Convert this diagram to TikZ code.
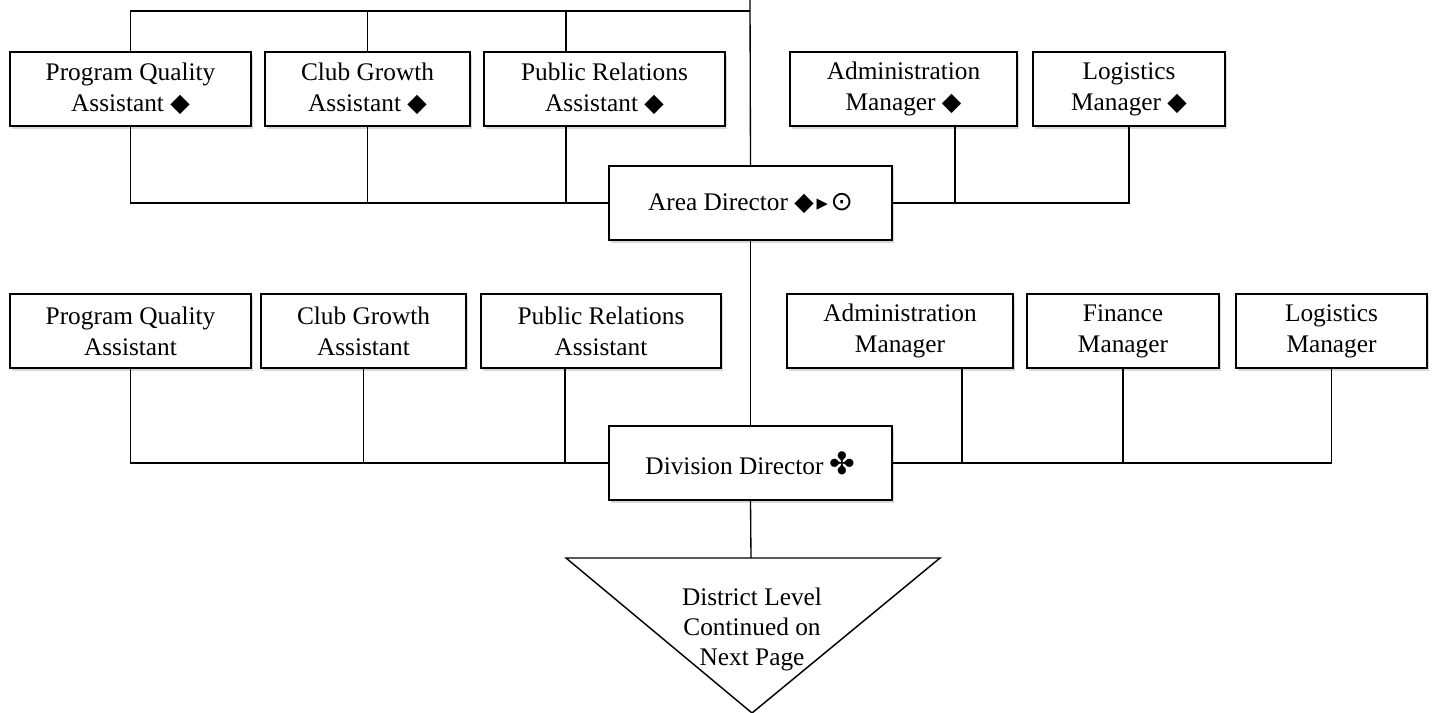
\documentclass[tikz,border=0pt]{standalone}
\usepackage{fontspec}
\setmainfont{Liberation Serif}
\newfontfamily\symfont{DejaVu Sans}
\usetikzlibrary{shadows}

\tikzset{every picture/.style={line width=0.75pt}}
\tikzset{
  orgbox/.style={draw, line width=1.1pt, fill=white, align=center, inner sep=0pt,
    minimum height=55.5pt, font=\fontsize{19}{23.25}\selectfont,
    drop shadow={shadow xshift=1.2pt, shadow yshift=-2.2pt, opacity=0.3}},
  link/.style={line width=1pt},
}
\newcommand{\dmd}{{\symfont\fontsize{19}{19}\selectfont ◆}}
\newcommand{\ptr}{{\symfont\fontsize{17}{17}\selectfont ▸}}
\newcommand{\cdt}{{\symfont\fontsize{20}{20}\selectfont ⊙}}
\newcommand{\clb}{{\symfont\fontsize{23}{23}\selectfont ✤}}

\begin{document}
\begin{tikzpicture}[x=0.75pt,y=0.75pt,yscale=-1,xscale=1]
\useasboundingbox (0,0) rectangle (1432,713);

% Top row
\node [orgbox, minimum width=180.75pt] (pqa) at (130.5,89) {Program Quality\\Assistant \dmd};
\node [orgbox, minimum width=153.75pt] (cga) at (367.5,89) {Club Growth\\Assistant \dmd};
\node [orgbox, minimum width=180.75pt] (pra) at (604.5,89) {Public Relations\\Assistant \dmd};
\node [orgbox, minimum width=170.25pt] (adm) at (903.5,89) {Administration\\Manager \dmd};
\node [orgbox, minimum width=144pt] (lgm) at (1129,89) {Logistics\\Manager \dmd};
% Area level
\node [orgbox, minimum width=212.25pt] (area) at (750.5,203) {Area Director \dmd\kern2pt\ptr\kern2pt\cdt};

% Second row
\node [orgbox, minimum width=180.75pt] (pqa2) at (130.5,331) {Program Quality\\Assistant};
\node [orgbox, minimum width=153.75pt] (cga2) at (363.5,331) {Club Growth\\Assistant};
\node [orgbox, minimum width=180pt] (pra2) at (601,331) {Public Relations\\Assistant};
\node [orgbox, minimum width=169.5pt] (adm2) at (900,331) {Administration\\Manager};
\node [orgbox, minimum width=144pt] (fin2) at (1123,331) {Finance\\Manager};
\node [orgbox, minimum width=143.25pt] (lgm2) at (1331.5,331) {Logistics\\Manager};
% Division level
\node [orgbox, minimum width=212.25pt] (div) at (750.5,463) {Division Director \clb};

%Shape: Triangle
\draw [line width=1.1pt, fill=white] (566,558) -- (940,558) -- (752,713) -- cycle;
\coordinate (trin) at (751,558);
% Text Node
\node [align=center, font=\fontsize{19}{22.5}\selectfont] (next) at (752,629) {District Level\\Continued on\\Next Page};

% Junction points
\coordinate (topin) at (750,0);
\coordinate (topbus) at (750,11);
\coordinate (prajoin) at (566,203);
\coordinate (admjoin) at (955,203);
\coordinate (pra2join) at (565,463);
\coordinate (adm2join) at (962,463);

% Connectors above the area level
\draw [link] (topin) -- (area.north);
\draw [link] (pqa.north) |- (topbus);
\draw [link] (cga.north) -- (cga.north |- topbus);
\draw [link] (pra.north -| prajoin) -- (prajoin |- topbus);
\draw [link] (pqa.south) |- (area.west);
\draw [link] (cga.south) -- (cga.south |- area.west);
\draw [link] (pra.south -| prajoin) -- (prajoin);
\draw [link] (area.east) -| (lgm.south);
\draw [link] (adm.south -| admjoin) -- (admjoin);

% Connectors of the division level
\draw [link] (area.south) -- (div.north);
\draw [link] (pqa2.south) |- (div.west);
\draw [link] (cga2.south) -- (cga2.south |- div.west);
\draw [link] (pra2.south -| pra2join) -- (pra2join);
\draw [link] (div.east) -| (lgm2.south);
\draw [link] (adm2.south -| adm2join) -- (adm2join);
\draw [link] (fin2.south) -- (fin2.south |- div.east);
\draw [link] (div.south) -- (trin);

\end{tikzpicture}
\end{document}
